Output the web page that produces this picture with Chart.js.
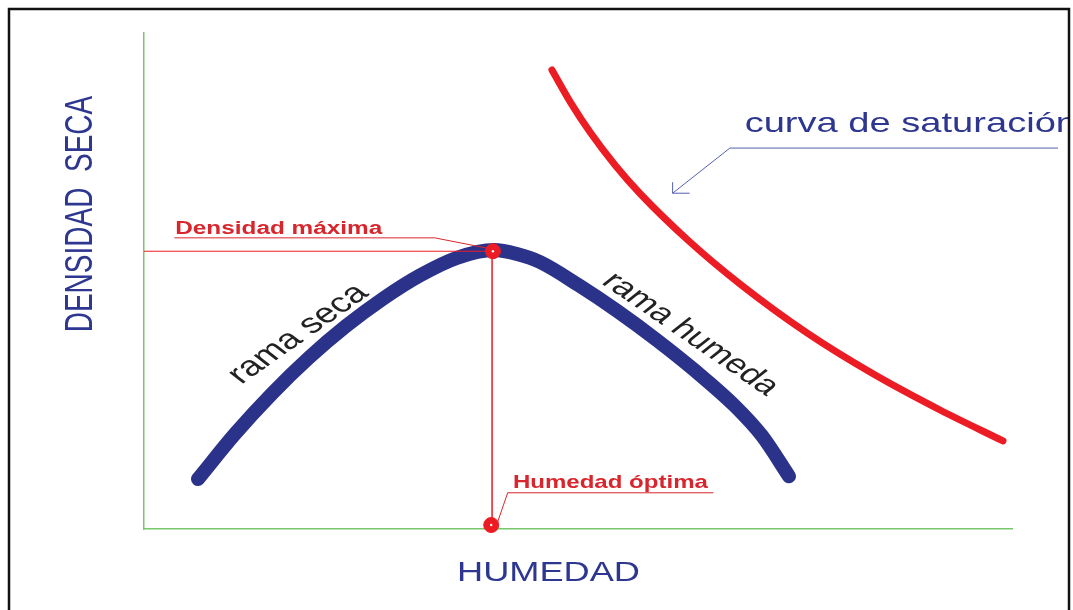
<!DOCTYPE html>
<html>
<head>
<meta charset="utf-8">
<script src="https://cdn.jsdelivr.net/npm/chart.js@4.4.1/dist/chart.umd.min.js"></script>
<style>
html,body{margin:0;padding:0;background:#fff;}
#wrap{width:1073px;height:610px;position:relative;}
</style>
</head>
<body>
<div id="wrap"><canvas id="c" width="1073" height="610"></canvas></div>
<script>
// ---- data (schematic: humedad on x, densidad seca on y) ----
const compactionX = [6.22, 10.48, 14.75, 19.01, 23.27, 27.53, 31.80, 36.06, 40.32, 42.97, 45.62, 50.12, 54.61, 59.10, 63.59, 68.09, 71.20, 74.31];
const compactionY = [10.08, 19.17, 27.30, 34.54, 40.91, 46.43, 51.13, 54.68, 56.25, 55.44, 53.83, 49.11, 43.85, 38.06, 31.77, 24.78, 18.79, 10.63];
const saturationX = [47.00, 49.19, 51.38, 54.26, 57.14, 62.90, 68.66, 76.38, 83.99, 91.71, 98.96];
const saturationY = [92.54, 85.87, 80.04, 73.39, 67.64, 57.86, 49.40, 39.54, 31.29, 23.99, 17.76];
const optimumX = 40.2;   // humedad óptima
const maxDensity = 56.0; // densidad máxima
const axisMin = 0, axisMax = 100;

const labels = {
  yTitle: "DENSIDAD  SECA",
  xTitle: "HUMEDAD",
  dmax: "Densidad máxima",
  wopt: "Humedad óptima",
  sat: "curva de saturación",
  dry: "rama seca",
  wet: "rama humeda"
};

const toPts = (xs, ys) => xs.map((x, i) => ({x, y: ys[i]}));

const BLUE = '#2b328a', RED = '#ec1c24', LRED = '#d9262c', TBLUE = '#2e3790', GREEN = '#77c86a';
const STRETCH = 1.36; // the picture's text is widened horizontally

// draw text with horizontal stretch (text runs in local rotated frame, then screen-x is stretched)
function stretchedText(ctx, text, x, y, angleDeg, sx) {
  ctx.save();
  ctx.translate(x, y);
  ctx.scale(sx, 1);
  ctx.rotate(angleDeg * Math.PI / 180);
  ctx.fillText(text, 0, 0);
  ctx.restore();
}

const annot = {
  id: 'annot',
  afterDatasetsDraw(chart) {
    const ctx = chart.ctx, xs = chart.scales.x, ys = chart.scales.y;
    const X = v => xs.getPixelForValue(v), Y = v => ys.getPixelForValue(v);
    const ca = chart.chartArea;
    ctx.save();
    ctx.textAlign = 'left'; ctx.textBaseline = 'alphabetic';

    // Densidad máxima label + leader
    ctx.strokeStyle = LRED; ctx.lineWidth = 1;
    ctx.beginPath();
    ctx.moveTo(X(3.5), Y(58.7)); ctx.lineTo(X(33.5), Y(58.7)); ctx.lineTo(X(optimumX - 0.6), Y(maxDensity + 0.6));
    ctx.stroke();
    ctx.fillStyle = LRED; ctx.font = 'bold 18px "Liberation Sans", Arial, sans-serif';
    let w = ctx.measureText(labels.dmax).width;
    stretchedText(ctx, labels.dmax, X(3.6), Y(59.4), 0, 207 / w);

    // Humedad óptima label + leader
    ctx.beginPath();
    ctx.moveTo(X(65.6), Y(7.3)); ctx.lineTo(X(41.9), Y(7.3)); ctx.lineTo(X(optimumX + 0.5), Y(1.2));
    ctx.stroke();
    ctx.font = 'bold 19px "Liberation Sans", Arial, sans-serif';
    w = ctx.measureText(labels.wopt).width;
    stretchedText(ctx, labels.wopt, X(42.5), Y(8.3), 0, 195 / w);

    // curva de saturación label + arrow
    ctx.save();
    ctx.beginPath(); ctx.rect(0, 0, 1068, 610); ctx.clip();
    ctx.fillStyle = TBLUE; ctx.font = '28px "Liberation Sans", Arial, sans-serif';
    stretchedText(ctx, labels.sat, X(69.2), Y(80.0), 0, STRETCH);
    ctx.restore();
    ctx.strokeStyle = '#5560b0'; ctx.lineWidth = 1;
    const tx = X(60.9), ty = Y(67.7);
    ctx.beginPath();
    ctx.moveTo(X(105.3), Y(76.8)); ctx.lineTo(X(67.5), Y(76.8)); ctx.lineTo(tx, ty);
    ctx.moveTo(tx, ty - 11); ctx.lineTo(tx, ty); ctx.lineTo(tx + 17, ty);
    ctx.stroke();

    // rama seca / rama humeda
    ctx.fillStyle = '#222'; ctx.font = '28px "Liberation Sans", Arial, sans-serif';
    stretchedText(ctx, labels.dry, X(11.2), Y(29.1), -43.6, STRETCH);
    ctx.font = '27px "Liberation Sans", Arial, sans-serif';
    stretchedText(ctx, labels.wet, X(52.6), Y(49.6), 42.9, STRETCH);

    // Axis titles
    ctx.fillStyle = TBLUE;
    ctx.font = '28px "Liberation Sans", Arial, sans-serif';
    ctx.save();
    ctx.translate(ca.left - 52, Y(63.5));
    ctx.scale(STRETCH, 1);
    ctx.rotate(-Math.PI / 2);
    ctx.textAlign = 'center';
    ctx.fillText(labels.yTitle, 0, 0);
    ctx.restore();

    ctx.font = '27px "Liberation Sans", Arial, sans-serif';
    const wX = ctx.measureText(labels.xTitle).width;
    const sX = 183 / wX;
    stretchedText(ctx, labels.xTitle, X(46.6) - wX * sX / 2, ca.bottom + 52, 0, sX);

    ctx.restore();
  },
  afterDraw(chart) {
    const ctx = chart.ctx;
    ctx.save();
    ctx.strokeStyle = '#111'; ctx.lineWidth = 2.5;
    ctx.strokeRect(9, 9, 1060, chart.height + 20);
    ctx.restore();
  }
};

new Chart(document.getElementById('c'), {
  type: 'scatter',
  data: {
    datasets: [
      { label: 'centros', data: [{x: optimumX, y: maxDensity}, {x: optimumX - 0.2, y: 0.8}],
        pointRadius: 1.2, pointBackgroundColor: '#fff', pointBorderWidth: 0, showLine: false, order: -1 },
      { label: 'markers', data: [{x: optimumX, y: maxDensity}, {x: optimumX - 0.2, y: 0.8}],
        pointRadius: 7.5, pointBackgroundColor: RED, pointBorderColor: RED, showLine: false, order: 0 },
      { label: 'hline', data: [{x: axisMin, y: maxDensity}, {x: optimumX, y: maxDensity}],
        showLine: true, borderColor: RED, borderWidth: 1, pointRadius: 0, order: 1 },
      { label: 'vline', data: [{x: optimumX - 0.1, y: maxDensity}, {x: optimumX - 0.1, y: axisMin}],
        showLine: true, borderColor: RED, borderWidth: 1.5, pointRadius: 0, order: 1 },
      { label: 'compactación', data: toPts(compactionX, compactionY),
        showLine: true, borderColor: BLUE, borderWidth: 14, borderCapStyle: 'round', borderJoinStyle: 'round',
        cubicInterpolationMode: 'monotone', pointRadius: 0, order: 2 },
      { label: 'saturación', data: toPts(saturationX, saturationY),
        showLine: true, borderColor: RED, borderWidth: 7, borderCapStyle: 'round', borderJoinStyle: 'round',
        cubicInterpolationMode: 'monotone', pointRadius: 0, order: 3 }
    ]
  },
  options: {
    responsive: false,
    animation: false,
    clip: false,
    layout: { padding: { left: 144, top: 33, right: 61, bottom: 81 } },
    plugins: { legend: { display: false }, tooltip: { enabled: false } },
    scales: {
      x: { type: 'linear', min: axisMin, max: axisMax,
           ticks: { display: false }, grid: { display: false, drawTicks: false },
           border: { display: true, color: GREEN, width: 1.5 } },
      y: { type: 'linear', min: axisMin, max: axisMax,
           ticks: { display: false }, grid: { display: false, drawTicks: false },
           border: { display: true, color: GREEN, width: 1.5 } }
    }
  },
  plugins: [annot]
});
</script>
</body>
</html>
